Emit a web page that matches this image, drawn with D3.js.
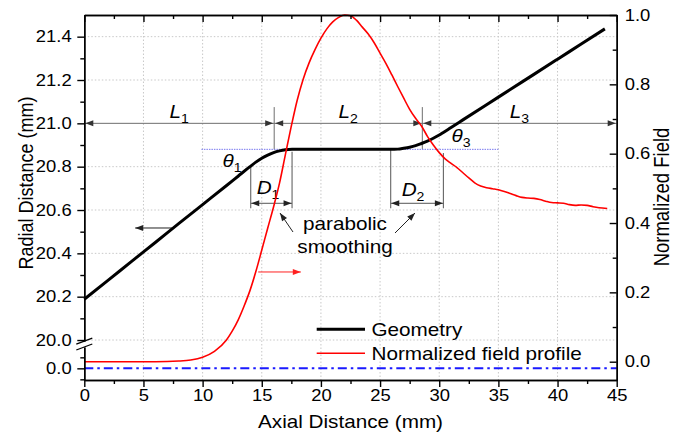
<!DOCTYPE html>
<html><head><meta charset="utf-8">
<script src="https://cdn.jsdelivr.net/npm/d3@7"></script>
<style>body{margin:0;background:#fff}svg{display:block}</style>
</head><body><svg id="c" width="692" height="432"></svg>
<script>
// ---------- data ----------
const xTicks=[0,5,10,15,20,25,30,35,40,45];
const xMinor=[2.5,7.5,12.5,17.5,22.5,27.5,32.5,37.5,42.5];
const yTicks=[20.0,20.2,20.4,20.6,20.8,21.0,21.2,21.4];
const yMinor=[20.1,20.3,20.5,20.7,20.9,21.1,21.3];
const yLowTicks=[0.0];
const yLowMinor=[-0.1,0.1];
const rTicks=[0.0,0.2,0.4,0.6,0.8,1.0];
const rMinor=[0.1,0.3,0.5,0.7,0.9];

const geoX=[0,2,4,6,8,10,12,13,14,14.5,15,15.5,16,16.5,17,17.56,20,23,25.9,26.5,27,27.5,28,28.5,29,29.5,30,30.35,31,32,34,36,38,40,42,44];
const geoY=[20.188,20.275,20.363,20.45,20.538,20.625,20.712,20.756,20.8,20.821,20.839,20.853,20.865,20.873,20.878,20.88,20.88,20.88,20.88,20.881,20.885,20.89,20.897,20.907,20.918,20.931,20.946,20.958,20.981,21.016,21.086,21.156,21.226,21.296,21.366,21.436];

const fieldX=[0,2,4,6,8,9,10,11,12,12.5,13,13.5,14,14.5,15,15.5,16,16.5,17,17.5,18,18.5,19,19.5,20,20.5,21,21.5,22,22.5,23,23.5,24,24.5,25,25.5,26,26.5,27,27.5,28,28.5,29,29.5,30,30.5,31,31.5,32,32.5,33,33.5,34,34.5,35,35.5,36,36.5,37,37.5,38,38.5,39,39.5,40,40.5,41,41.5,42,42.5,43,43.5,44.2];
const fieldY=[0,0,0,0,0.002,0.005,0.013,0.03,0.062,0.088,0.12,0.16,0.205,0.26,0.322,0.385,0.447,0.515,0.598,0.68,0.755,0.815,0.862,0.9,0.933,0.96,0.98,0.993,1.0,0.998,0.985,0.965,0.945,0.92,0.89,0.86,0.827,0.793,0.76,0.728,0.702,0.68,0.65,0.625,0.603,0.585,0.572,0.56,0.545,0.53,0.516,0.507,0.502,0.499,0.496,0.491,0.485,0.479,0.474,0.472,0.471,0.468,0.463,0.459,0.458,0.457,0.453,0.451,0.452,0.451,0.447,0.444,0.442];

const refX=[0,45];
const refY=[0,0];
const legendLabels=["Geometry","Normalized field profile"];
const sectionBounds=[0,16.05,28.57,45];
const sectionSubs=["1","2","3"];

// ---------- layout ----------
const FONT="'Liberation Sans', Arial, Helvetica, sans-serif";
const SX=1.15;
const L=84.3,R=616.7,T=15,B=380;
const svg=d3.select("#c");
const x=d3.scaleLinear().domain([0,45]).range([L,R]);
const yTop=d3.scaleLinear().domain([19.995,21.5]).range([341.1,T]);
const yLow=d3.scaleLinear().domain([-0.106,0.194]).range([B,347]);
const yR=d3.scaleLinear().domain([-0.0528,1]).range([B,T]);

function txt(g,px,py,parts,o={}){
  const size=o.size||18;
  const t=g.append("text")
    .attr("transform",`translate(${px},${py}) scale(${SX},1)`+(o.rot?` rotate(${o.rot})`:""))
    .attr("font-family",FONT).attr("font-size",size)
    .attr("text-anchor",o.anchor||"start").attr("fill",o.fill||"#000");
  parts.forEach(p=>{
    const s=t.append("tspan").text(p.t);
    if(p.it) s.attr("font-style","italic");
    if(p.sub) s.attr("font-size",size*0.68).attr("dy",size*0.3);
    if(p.back) s.attr("dy",-size*0.3);
  });
  return t;
}
function head(g,px,py,ang,color,len=8,w=3){
  const c=Math.cos(ang),s=Math.sin(ang);
  const p=[[px,py],[px-len*c+w*s,py-len*s-w*c],[px-len*c-w*s,py-len*s+w*c]];
  g.append("path").attr("d","M"+p.map(q=>q.join(",")).join("L")+"Z").attr("fill",color);
}

// ---------- grid ----------
const grid=svg.append("g").attr("stroke","#c8c8c8").attr("stroke-width",1).attr("stroke-dasharray","1.5,2");
xTicks.filter(v=>v>0&&v<45).forEach(v=>grid.append("line").attr("x1",x(v)).attr("x2",x(v)).attr("y1",T).attr("y2",B));
yTicks.filter(v=>v!==21.0).forEach(v=>grid.append("line").attr("x1",L).attr("x2",R).attr("y1",yTop(v)).attr("y2",yTop(v)));

// ---------- reference dash-dot ----------
svg.append("path").datum(refX.map((v,i)=>[v,refY[i]]))
  .attr("d",d3.line().x(d=>x(d[0])).y(d=>yLow(d[1])))
  .attr("fill","none").attr("stroke","#1a1aff").attr("stroke-width",2).attr("stroke-dasharray","9,4,2.5,4");

// ---------- annotations ----------
const an=svg.append("g");
const dimC="#6e6e6e";
const y21=yTop(21.0);
an.append("line").attr("x1",L).attr("x2",R).attr("y1",y21).attr("y2",y21).attr("stroke",dimC).attr("stroke-width",1);
head(an,L+1,y21,Math.PI,"#333",8,3);
head(an,R-1,y21,0,"#333",8,3);
[sectionBounds[1],sectionBounds[2]].forEach(v=>{
  an.append("line").attr("x1",x(v)).attr("x2",x(v)).attr("y1",yTop(21.075)).attr("y2",yTop(20.88)).attr("stroke",dimC).attr("stroke-width",1);
  head(an,x(v)-1,y21,0,"#333",8,3);
  head(an,x(v)+1,y21,Math.PI,"#333",8,3);
});
sectionSubs.forEach((s,i)=>{
  const mx=(sectionBounds[i]+sectionBounds[i+1])/2;
  txt(an,x(mx),118,[{t:"L",it:true},{t:s,sub:true}],{anchor:"middle",size:18});
});
// blue dotted level lines
const dotC="#7777ee";
[[9.9,16.9],[25.8,35.0]].forEach(([a,b])=>{
  an.append("line").attr("x1",x(a)).attr("x2",x(b)).attr("y1",yTop(20.88)).attr("y2",yTop(20.88))
    .attr("stroke",dotC).attr("stroke-width",1).attr("stroke-dasharray","1.5,1");
});
// D dimensions
const dC="#555";
function dim(a,b,ta,tb,lab,lx,ly){
  an.append("line").attr("x1",x(a)).attr("x2",x(a)).attr("y1",yTop(ta)).attr("y2",yTop(20.608)).attr("stroke",dC).attr("stroke-width",1);
  an.append("line").attr("x1",x(b)).attr("x2",x(b)).attr("y1",yTop(tb)).attr("y2",yTop(20.608)).attr("stroke",dC).attr("stroke-width",1);
  const yy=yTop(20.631);
  an.append("line").attr("x1",x(a)).attr("x2",x(b)).attr("y1",yy).attr("y2",yy).attr("stroke",dC).attr("stroke-width",1);
  head(an,x(a)+0.5,yy,Math.PI,"#222",8,3);
  head(an,x(b)-0.5,yy,0,"#222",8,3);
  txt(an,lx,ly,[{t:"D",it:true},{t:lab,sub:true}],{anchor:"middle",size:18});
}
dim(14.07,17.56,20.80,20.869,"1",268,194);
dim(25.9,30.35,20.877,20.863,"2",413,196);
// theta labels
txt(an,232,167,[{t:"θ",it:true},{t:"1",sub:true}],{anchor:"middle",size:18});
txt(an,461,142,[{t:"θ",it:true},{t:"3",sub:true}],{anchor:"middle",size:18});
// parabolic smoothing
txt(an,345,230,[{t:"parabolic"}],{anchor:"middle",size:18});
txt(an,345,253,[{t:"smoothing"}],{anchor:"middle",size:18});
function pointer(x1,y1,x2,y2,color){
  an.append("line").attr("x1",x1).attr("y1",y1).attr("x2",x2).attr("y2",y2).attr("stroke",color).attr("stroke-width",1);
  head(an,x2,y2,Math.atan2(y2-y1,x2-x1),color,8,3);
}
pointer(293,232,280,213,"#222");
pointer(395,233,415,213,"#222");
// axis-indicating arrows
pointer(x(7.4),yTop(20.517),x(4.3),yTop(20.517),"#222");
pointer(x(14.7),yTop(20.314),x(18.3),yTop(20.314),"#ff2020");

// ---------- curves ----------
svg.append("path").datum(geoX.map((v,i)=>[v,geoY[i]]))
  .attr("d",d3.line().x(d=>x(d[0])).y(d=>yTop(d[1])).curve(d3.curveMonotoneX))
  .attr("fill","none").attr("stroke","#000").attr("stroke-width",3);
svg.append("path").datum(fieldX.map((v,i)=>[v,fieldY[i]]))
  .attr("d",d3.line().x(d=>x(d[0])).y(d=>yR(d[1])).curve(d3.curveMonotoneX))
  .attr("fill","none").attr("stroke","#ff0000").attr("stroke-width",1.6);

// ---------- axes ----------
function styleAxis(g){
  g.selectAll("path,line").attr("stroke","#000").attr("stroke-width",1.4);
  g.selectAll("text").attr("font-family",FONT).attr("font-size",16).attr("fill","#000")
    .attr("transform",`scale(${SX},1)`);
}
const f1=d3.format(".1f");
// bottom
svg.append("g").attr("transform",`translate(0,${B})`)
  .call(d3.axisBottom(x).tickValues(xTicks).tickSize(7).tickSizeOuter(0).tickPadding(3).tickFormat(d3.format("d"))).call(styleAxis);
svg.append("g").attr("transform",`translate(0,${B})`)
  .call(d3.axisBottom(x).tickValues(xMinor).tickSize(4).tickSizeOuter(0).tickFormat("")).call(styleAxis);
// top (inward)
svg.append("g").attr("transform",`translate(0,${T})`)
  .call(d3.axisBottom(x).tickValues(xTicks).tickSize(7).tickSizeOuter(0).tickFormat("")).call(styleAxis);
svg.append("g").attr("transform",`translate(0,${T})`)
  .call(d3.axisBottom(x).tickValues(xMinor).tickSize(4).tickSizeOuter(0).tickFormat("")).call(styleAxis);
// left upper
svg.append("g").attr("transform",`translate(${L},0)`)
  .call(d3.axisLeft(yTop).tickValues(yTicks).tickSize(7).tickSizeOuter(0).tickPadding(4).tickFormat(f1)).call(styleAxis);
svg.append("g").attr("transform",`translate(${L},0)`)
  .call(d3.axisLeft(yTop).tickValues(yMinor).tickSize(4).tickSizeOuter(0).tickFormat("")).call(styleAxis);
// left lower
svg.append("g").attr("transform",`translate(${L},0)`)
  .call(d3.axisLeft(yLow).tickValues(yLowTicks).tickSize(7).tickSizeOuter(0).tickPadding(4).tickFormat(f1)).call(styleAxis);
svg.append("g").attr("transform",`translate(${L},0)`)
  .call(d3.axisLeft(yLow).tickValues(yLowMinor).tickSize(4).tickSizeOuter(0).tickFormat("")).call(styleAxis);
// break marks
const bk=svg.append("g").attr("stroke","#000").attr("stroke-width",1.3);
bk.append("line").attr("x1",L-8).attr("y1",yTop.range()[0]+3).attr("x2",L+8).attr("y2",yTop.range()[0]-3);
bk.append("line").attr("x1",L-8).attr("y1",yLow.range()[1]+3).attr("x2",L+8).attr("y2",yLow.range()[1]-3);
// right (inward ticks)
svg.append("g").attr("transform",`translate(${R},0)`)
  .call(d3.axisRight(yR).tickValues(rTicks).tickSize(-7).tickSizeOuter(0).tickPadding(7).tickFormat(f1)).call(styleAxis);
svg.append("g").attr("transform",`translate(${R},0)`)
  .call(d3.axisRight(yR).tickValues(rMinor).tickSize(-4).tickSizeOuter(0).tickFormat("")).call(styleAxis);

// ---------- titles ----------
txt(svg,(L+R)/2,428,[{t:"Axial Distance (mm)"}],{anchor:"middle",size:18});
txt(svg,33,183,[{t:"Radial Distance (mm)"}],{anchor:"middle",size:18,rot:-90});
txt(svg,669,197,[{t:"Normalized Field"}],{anchor:"middle",size:18.5,rot:-90});

// ---------- legend ----------
const lg=svg.append("g");
const legendStyle=[{c:"#000",w:3},{c:"#ff0000",w:1.6}];
const legY=[329.3,353.3];
legendLabels.forEach((lab,i)=>{
  lg.append("line").attr("x1",316.7).attr("x2",365).attr("y1",legY[i]).attr("y2",legY[i])
    .attr("stroke",legendStyle[i].c).attr("stroke-width",legendStyle[i].w);
  txt(lg,371.5,legY[i]+6.5,[{t:lab}],{size:18});
});
</script></body></html>
